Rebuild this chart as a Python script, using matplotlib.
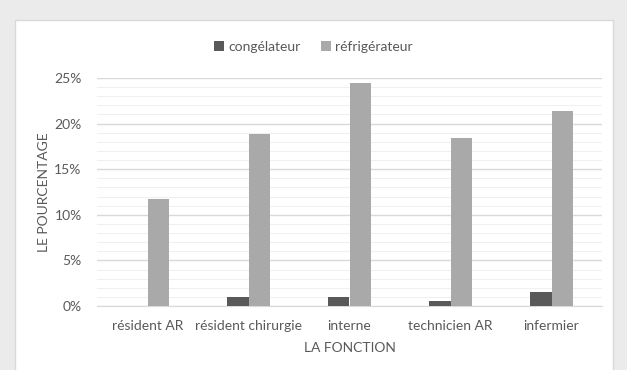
import matplotlib
matplotlib.use("Agg")
import matplotlib.pyplot as plt
from matplotlib.patches import Rectangle
from matplotlib.ticker import MultipleLocator, PercentFormatter
import numpy as np

categories = ["résident AR", "résident chirurgie", "interne", "technicien AR", "infermier"]
congelateur = [0.0, 1.0, 1.0, 0.5, 1.5]
refrigerateur = [11.7, 18.9, 24.4, 18.4, 21.4]

plt.rcParams['font.family'] = ['Lato', 'DejaVu Sans']
text_color = '#595959'

fig = plt.figure(figsize=(6.27, 3.70), dpi=100)
fig.patch.set_facecolor('#ebebeb')
# white chart area with thin border, kept behind the axes
fig.patches.append(Rectangle((15 / 627, -0.01), 598 / 627, 350 / 370 + 0.01, transform=fig.transFigure,
                             facecolor='white', edgecolor='#d9d9d9', linewidth=1, zorder=-10))

ax = fig.add_axes([97 / 627, 1 - 306 / 370, 505 / 627, 228 / 370])
ax.set_facecolor('none')

x = np.arange(len(categories))
w = 0.208
ax.bar(x - w / 2, congelateur, w, color='#595959', label='congélateur', zorder=3)
ax.bar(x + w / 2, refrigerateur, w, color='#a9a9a9', label='réfrigérateur', zorder=3)

ax.set_xlim(-0.5, len(categories) - 0.5)
ax.set_ylim(0, 25)
ax.yaxis.set_major_locator(MultipleLocator(5))
ax.yaxis.set_minor_locator(MultipleLocator(1))
ax.yaxis.set_major_formatter(PercentFormatter(decimals=0))
ax.grid(axis='y', which='major', color='#d9d9d9', linewidth=1, zorder=0)
ax.grid(axis='y', which='minor', color='#f0f0f0', linewidth=0.8, zorder=0)
for s in ['top', 'right', 'left']:
    ax.spines[s].set_visible(False)
ax.spines['bottom'].set_color('#d9d9d9')

ax.set_xticks(x)
ax.set_xticklabels(categories)
ax.tick_params(axis='both', which='both', length=0, colors=text_color, labelsize=10)
ax.tick_params(axis='x', pad=10)
ax.tick_params(axis='y', pad=11)

ax.set_xlabel('LA FONCTION', color=text_color, fontsize=10, labelpad=7)
ax.set_ylabel('LE POURCENTAGE', color=text_color, fontsize=10, labelpad=3)

leg = fig.legend(loc='center', bbox_to_anchor=(0.5, 1 - 47 / 370), ncol=2, frameon=False,
                 fontsize=10, handlelength=0.7, handleheight=0.7, handletextpad=0.3,
                 columnspacing=1.5)
for t in leg.get_texts():
    t.set_color(text_color)

fig.savefig('out.png', dpi=100, facecolor=fig.get_facecolor())
